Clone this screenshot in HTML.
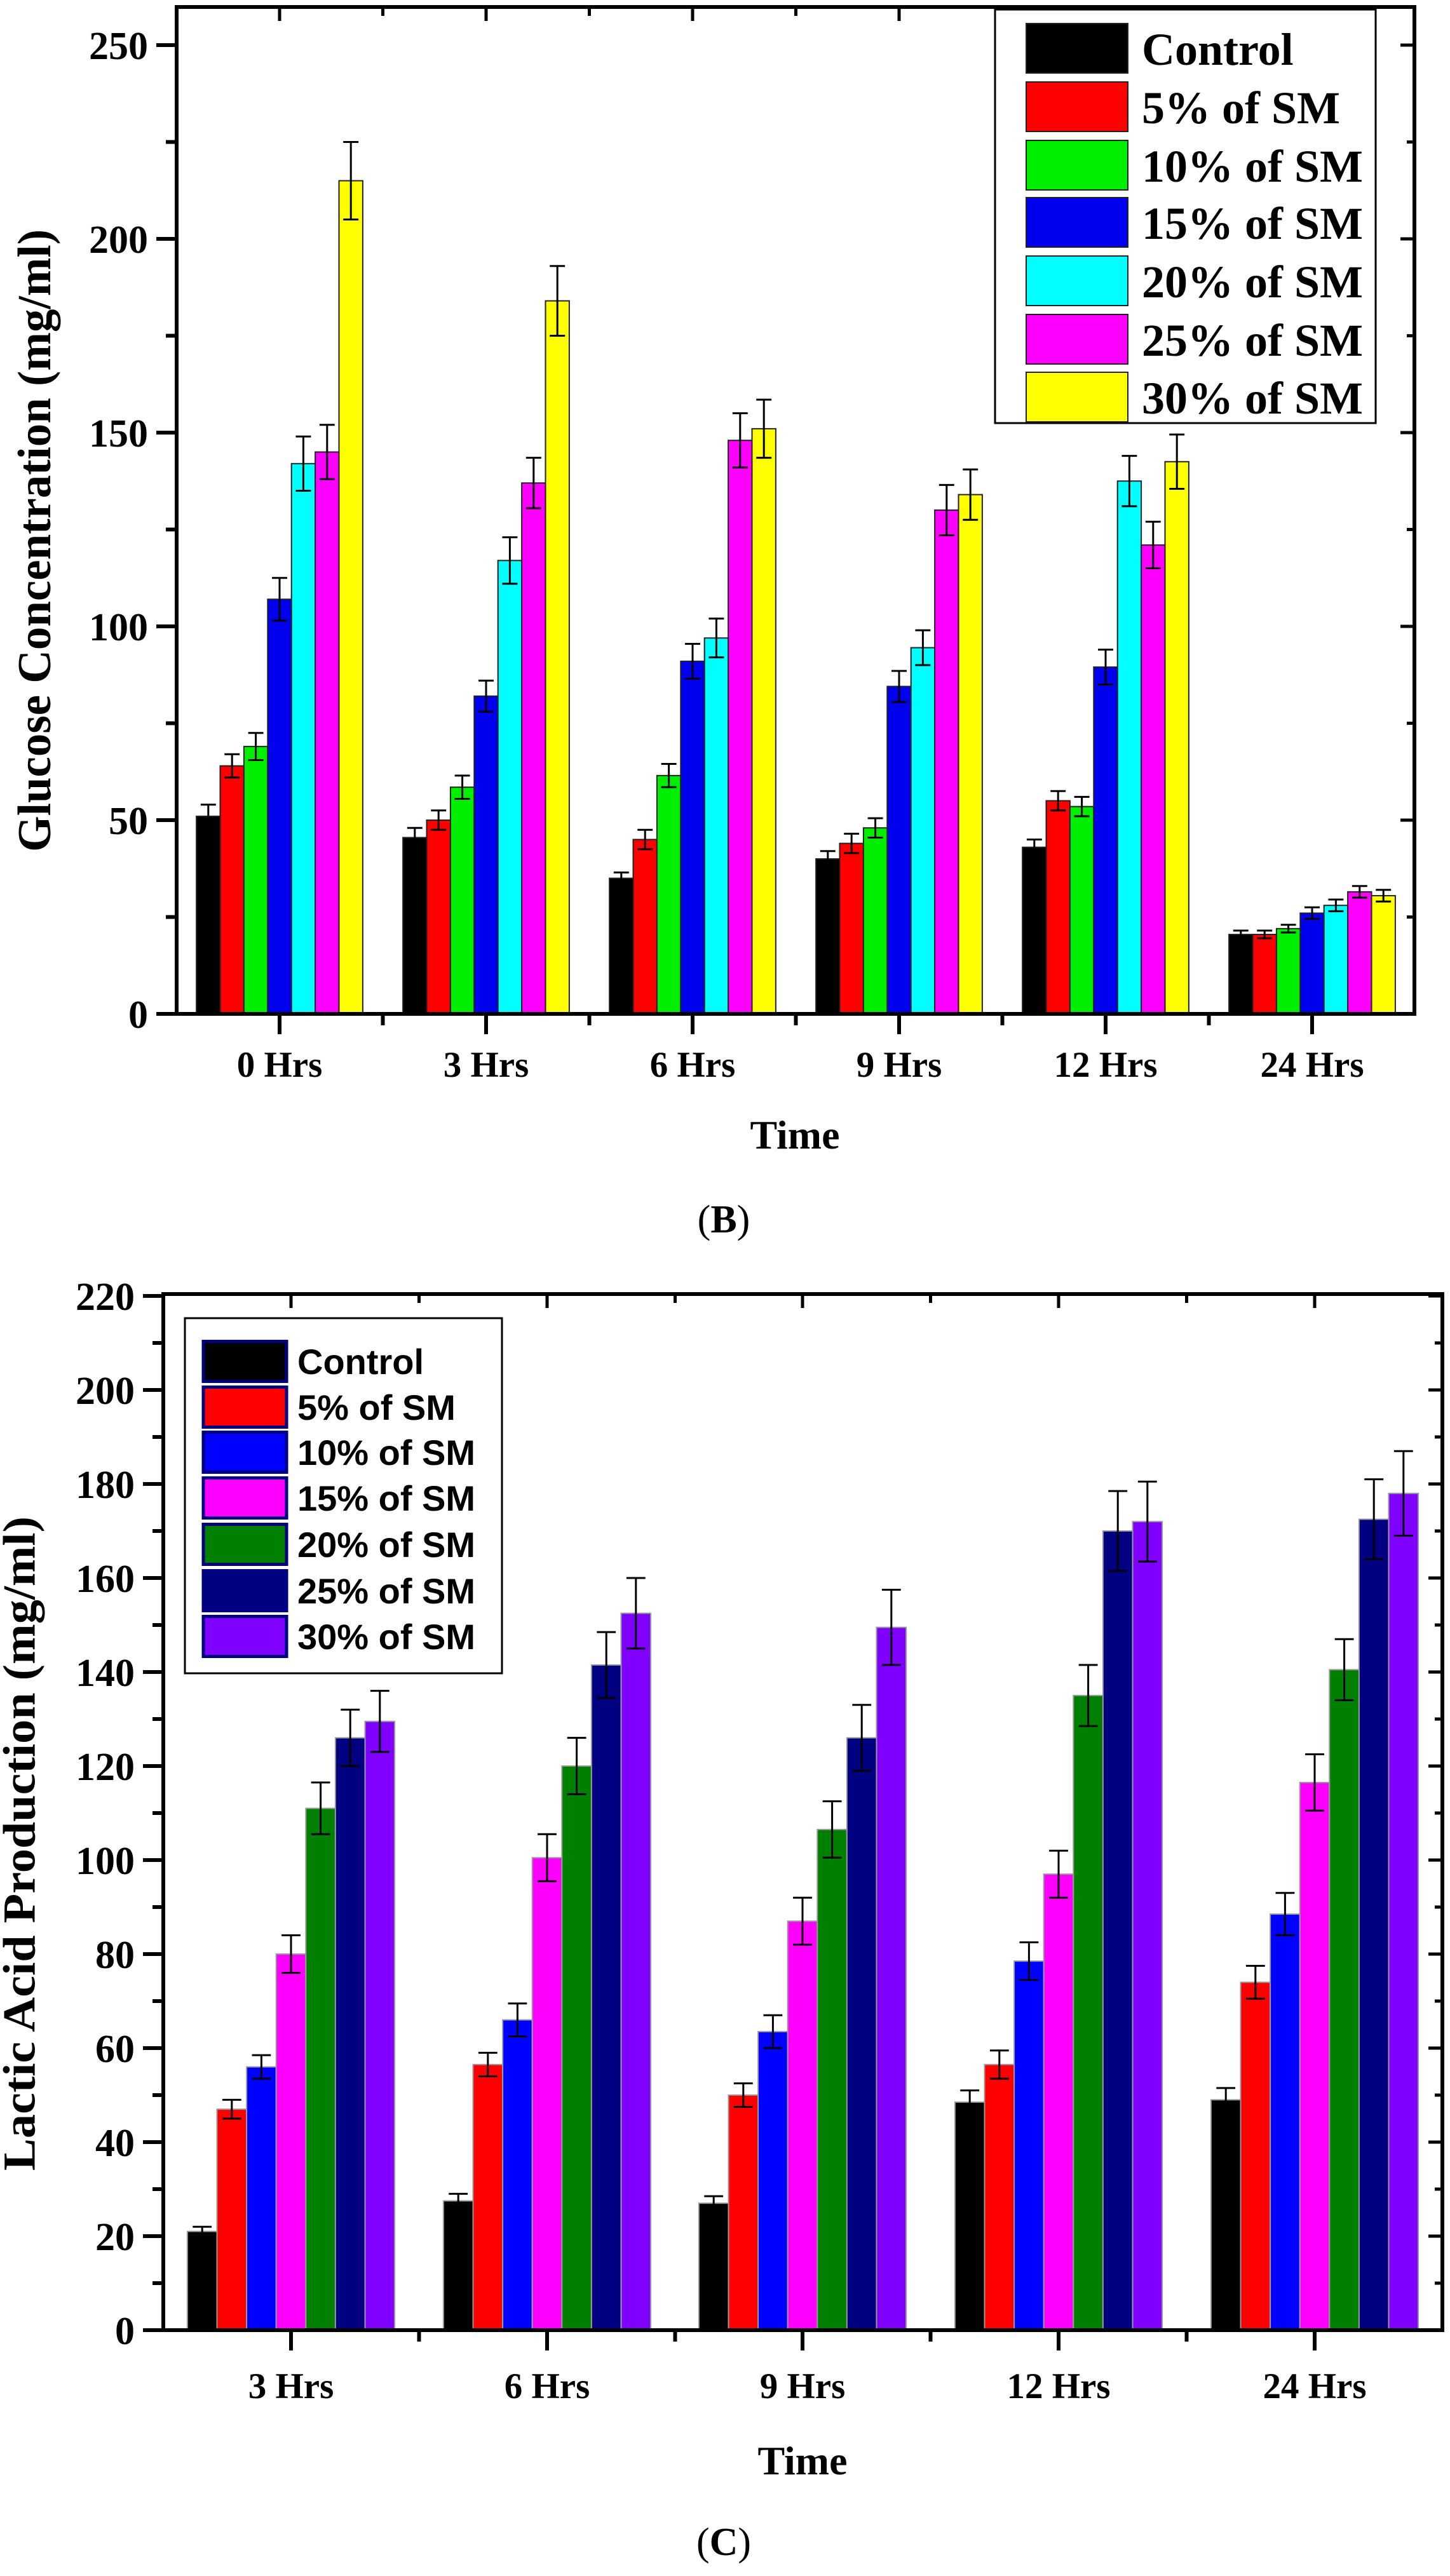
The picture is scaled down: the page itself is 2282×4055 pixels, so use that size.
<!DOCTYPE html>
<html><head><meta charset="utf-8">
<style>
html,body{margin:0;padding:0;background:#fff;}
svg{display:block;}
text{font-family:"Liberation Serif",serif;font-weight:bold;fill:#000;}
.leg2{font-family:"Liberation Sans",sans-serif;}
</style></head>
<body>
<svg id="s" xmlns="http://www.w3.org/2000/svg" width="2282" height="4055" viewBox="0 0 2282 4055">
<rect width="2282" height="4055" fill="#fff"/>
<g id="g"></g>
<text x="62" y="851" font-size="74" text-anchor="middle" textLength="980" lengthAdjust="spacingAndGlyphs" transform="rotate(-90 62 851)" dominant-baseline="middle">Glucose Concentration (mg/ml)</text>
<text x="1251" y="1808" font-size="64" text-anchor="middle">Time</text>
<text x="1139" y="1940" font-size="62" text-anchor="middle"><tspan font-weight="normal">(</tspan>B<tspan font-weight="normal">)</tspan></text>
<text x="38" y="2902" font-size="72" text-anchor="middle" textLength="1030" lengthAdjust="spacingAndGlyphs" transform="rotate(-90 38 2902)" dominant-baseline="middle">Lactic Acid Production (mg/ml)</text>
<text x="1263" y="3895" font-size="64" text-anchor="middle">Time</text>
<text x="1139" y="4022" font-size="62" text-anchor="middle"><tspan font-weight="normal">(</tspan>C<tspan font-weight="normal">)</tspan></text>
</svg>
<script>
(function(){
var NS="http://www.w3.org/2000/svg",g=document.getElementById("g");
function el(t,a,txt){var e=document.createElementNS(NS,t);for(var k in a)e.setAttribute(k,a[k]);if(txt!=null)e.textContent=txt;g.appendChild(e);return e;}
function chart(o){
  var y=function(v){return o.y0-o.k*v;};
  for(var gi=0;gi<o.data.length;gi++){
    var c=o.cx[gi],st=c-o.bw*7/2;
    for(var i=0;i<7;i++){
      var v=o.data[gi][i],e=o.err[gi][i],x=st+i*o.bw;
      el("rect",{x:x,y:y(v),width:o.bw,height:o.y0-y(v),fill:o.col[i],stroke:o.bst,"stroke-width":2});
      var m=x+o.bw/2,cw=o.bw*0.32;
      el("path",{d:"M"+m+" "+y(v+e)+"V"+y(v-e)+"M"+(m-cw)+" "+y(v+e)+"H"+(m+cw)+"M"+(m-cw)+" "+y(v-e)+"H"+(m+cw),stroke:"#000","stroke-width":3,fill:"none"});
    }
  }
  el("rect",{x:o.L,y:o.T,width:o.R-o.L,height:o.y0-o.T,fill:"none",stroke:"#000","stroke-width":6});
  for(var v=0;v<=o.max;v+=o.minor){
    var maj=(Math.round(v/o.major*1000)%1000===0);
    var yy=y(v); if(yy<o.T-2)continue;
    el("line",{x1:o.L-(maj?32:17),x2:o.L,y1:yy,y2:yy,stroke:"#000","stroke-width":6});
    el("line",{x1:o.R,x2:o.R-(maj?22:12),y1:yy,y2:yy,stroke:"#000","stroke-width":5});
    if(maj)el("text",{x:o.L-45,y:yy+22,"font-size":62,"text-anchor":"end"},String(v));
  }
  var sp=o.cx[1]-o.cx[0];
  for(var gi=0;gi<o.cx.length;gi++){
    var c=o.cx[gi];
    el("line",{x1:c,x2:c,y1:o.y0,y2:o.y0+32,stroke:"#000","stroke-width":6});
    el("line",{x1:c,x2:c,y1:o.T,y2:o.T+22,stroke:"#000","stroke-width":5});
    if(gi<o.cx.length-1){var mm=c+sp/2;
      el("line",{x1:mm,x2:mm,y1:o.y0,y2:o.y0+18,stroke:"#000","stroke-width":6});
      el("line",{x1:mm,x2:mm,y1:o.T,y2:o.T+14,stroke:"#000","stroke-width":5});}
    el("text",{x:c,y:o.xly,"font-size":57,"text-anchor":"middle"},o.cat[gi]);
  }
  var lg=o.leg;
  el("rect",{x:lg.x,y:lg.y,width:lg.w,height:lg.h,fill:"#fff",stroke:"#000","stroke-width":3});
  for(var i=0;i<7;i++){
    var ry=lg.rows[i];
    el("rect",{x:lg.sx,y:ry-lg.sh/2,width:lg.sw,height:lg.sh,fill:o.col[i],stroke:lg.sst,"stroke-width":lg.ssw});
    var t=el("text",{x:lg.tx,y:ry+lg.fs*0.36,"font-size":lg.fs},lg.lab[i]);
    if(lg.cls)t.setAttribute("class",lg.cls);
  }
}
chart({
  y0:1596,k:6.1,L:278,R:2226,T:11,max:250,major:50,minor:25,bw:37.4,bst:"#222",
  cx:[440,765,1090,1415,1740,2065],xly:1695,
  cat:["0 Hrs","3 Hrs","6 Hrs","9 Hrs","12 Hrs","24 Hrs"],
  col:["#000000","#ff0000","#00ee00","#0000ee","#00ffff","#ff00ff","#ffff00"],
  data:[[51,64,69,107,142,145,215],[45.5,50,58.5,82,117,137,184],[35,45,61.5,91,97,148,151],
        [40,44,48,84.5,94.5,130,134],[43,55,53.5,89.5,137.5,121,142.5],[20.5,20.5,22,26,28,31.5,30.5]],
  err:[[3,3,3.5,5.5,7,7,10],[2.5,2.5,3,4,6,6.5,9],[1.5,2.5,3,4.5,5,7,7.5],
       [2,2.5,2.5,4,4.5,6.5,6.5],[2,2.5,2.5,4.5,6.5,6,7],[1,1,1,1.5,1.5,1.5,1.5]],
  leg:{x:1566,y:15,w:599,h:651,sx:1615,sw:160,sh:78,sst:"#222",ssw:2,tx:1797,fs:72,
       rows:[76,168,260,350,442,534,625],
       lab:["Control","5% of SM","10% of SM","15% of SM","20% of SM","25% of SM","30% of SM"]}
});
chart({
  y0:3668,k:7.4,L:257,R:2270,T:2037,max:220,major:20,minor:10,bw:46.6,bst:"#999",
  cx:[458,861,1263,1666,2069],xly:3775,
  cat:["3 Hrs","6 Hrs","9 Hrs","12 Hrs","24 Hrs"],
  col:["#000000","#ff0000","#0000ff","#ff00ff","#008000","#000080","#8000ff"],
  data:[[21,47,56,80,111,126,129.5],[27.5,56.5,66,100.5,120,141.5,152.5],[27,50,63.5,87,106.5,126,149.5],
        [48.5,56.5,78.5,97,135,170,172],[49,74,88.5,116.5,140.5,172.5,178]],
  err:[[1,2,2.5,4,5.5,6,6.5],[1.5,2.5,3.5,5,6,7,7.5],[1.5,2.5,3.5,5,6,7,8],
       [2.5,3,4,5,6.5,8.5,8.5],[2.5,3.5,4.5,6,6.5,8.5,9]],
  leg:{x:291,y:2075,w:499,h:559,sx:320,sw:131,sh:63,sst:"#000080",ssw:5,tx:468,fs:56,cls:"leg2",
       rows:[2143,2215,2286,2358,2431,2504,2576],
       lab:["Control","5% of SM","10% of SM","15% of SM","20% of SM","25% of SM","30% of SM"]}
});
})();
</script>
</body></html>
